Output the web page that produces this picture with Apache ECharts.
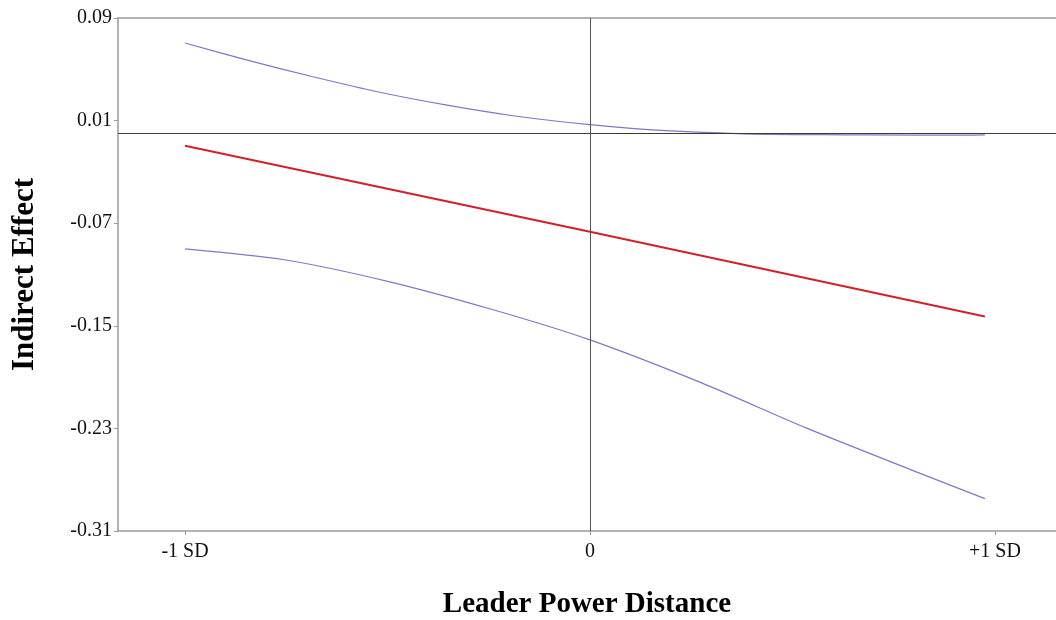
<!DOCTYPE html>
<html>
<head>
<meta charset="utf-8">
<script src="https://cdn.jsdelivr.net/npm/echarts@6/dist/echarts.min.js"></script>
<style>
html,body{margin:0;padding:0;background:#fff;}
#chart{width:1056px;height:620px;}
</style>
</head>
<body>
<div id="chart"></div>
<script>
// Tick labels
const xTickValues = [-1, 0, 1];
const xTickLabels = ['-1 SD', '0', '+1 SD'];
const yTickValues = [0.09, 0.01, -0.07, -0.15, -0.23, -0.31];

// Indirect effect (red line)
const effectX = [-1, 0, 0.975];
const effectY = [-0.0096, -0.0767, -0.1428];

// Upper confidence bound (blue)
const upperX = [-1, -0.846, -0.684, -0.519, -0.353, -0.19, 0, 0.163, 0.378, 0.575, 0.689, 0.921, 0.975];
const upperY = [0.0705, 0.0571, 0.0442, 0.0321, 0.022, 0.0138, 0.0068, 0.0025, -0.0003, -0.001, -0.0012, -0.0013, -0.0012];

// Lower confidence bound (blue)
const lowerX = [-1, -0.755, -0.497, -0.239, 0, 0.277, 0.535, 0.793, 0.975];
const lowerY = [-0.09, -0.0985, -0.1155, -0.1375, -0.161, -0.1947, -0.2298, -0.2623, -0.2848];

const zip = (xs, ys) => xs.map((x, i) => [x, ys[i]]);
const FONT = 'Liberation Serif';
const X_MIN = -1.1654, X_MAX = 1.1506;

const chart = echarts.init(document.getElementById('chart'), null, {renderer: 'canvas'});
chart.setOption({
  animation: false,
  backgroundColor: '#fff',
  grid: {left: 118, right: 0, top: 18, bottom: 89, containLabel: false, outerBoundsMode: 'none'},
  xAxis: [{
    type: 'value',
    min: X_MIN, max: X_MAX,
    splitLine: {show: false},
    axisLine: {show: true, onZero: false, lineStyle: {color: '#9a9a9a', width: 1.5}},
    axisTick: {show: true, customValues: xTickValues, length: 4, lineStyle: {color: '#9a9a9a'}},
    axisLabel: {
      customValues: xTickValues,
      formatter: v => xTickLabels[xTickValues.indexOf(Math.round(v))],
      fontFamily: FONT, fontSize: 20, color: '#111', margin: 11
    },
    name: 'Leader Power Distance',
    nameLocation: 'middle',
    nameGap: 59,
    nameTextStyle: {fontFamily: FONT, fontSize: 29, fontWeight: 'bold', color: '#000'}
  }, {
    type: 'value',
    position: 'top',
    min: X_MIN, max: X_MAX,
    splitLine: {show: false},
    axisLine: {show: true, onZero: false, lineStyle: {color: '#9a9a9a', width: 1.5}},
    axisTick: {show: false},
    axisLabel: {show: false}
  }],
  yAxis: {
    type: 'value',
    min: -0.31, max: 0.09,
    splitLine: {show: false},
    axisLine: {show: true, onZero: false, lineStyle: {color: '#9a9a9a', width: 1.5}},
    axisTick: {show: true, customValues: yTickValues, length: 4, lineStyle: {color: '#9a9a9a'}},
    axisLabel: {
      customValues: yTickValues,
      formatter: v => v.toFixed(2),
      fontFamily: FONT, fontSize: 20, color: '#111', margin: 6
    },
    name: 'Indirect Effect',
    nameLocation: 'middle',
    nameGap: 78,
    nameTextStyle: {fontFamily: FONT, fontSize: 31, fontWeight: 'bold', color: '#000'}
  },
  series: [{
    type: 'line',
    name: 'Upper',
    data: zip(upperX, upperY),
    smooth: 0.25,
    showSymbol: false,
    lineStyle: {color: '#7a7ac6', width: 1.2},
    z: 3,
    markLine: {
      silent: true,
      symbol: 'none',
      label: {show: false},
      animation: false,
      data: [
        {yAxis: 0, lineStyle: {color: '#3a3a3a', width: 1, type: 'solid'}},
        {xAxis: 0, lineStyle: {color: '#555', width: 1, type: 'solid'}}
      ]
    }
  }, {
    type: 'line',
    name: 'Lower',
    data: zip(lowerX, lowerY),
    smooth: 0.25,
    showSymbol: false,
    lineStyle: {color: '#7a7ac6', width: 1.2},
    z: 3
  }, {
    type: 'line',
    name: 'Effect',
    data: zip(effectX, effectY),
    showSymbol: false,
    lineStyle: {color: '#d2202a', width: 2},
    z: 4
  }]
});
</script>
</body>
</html>
